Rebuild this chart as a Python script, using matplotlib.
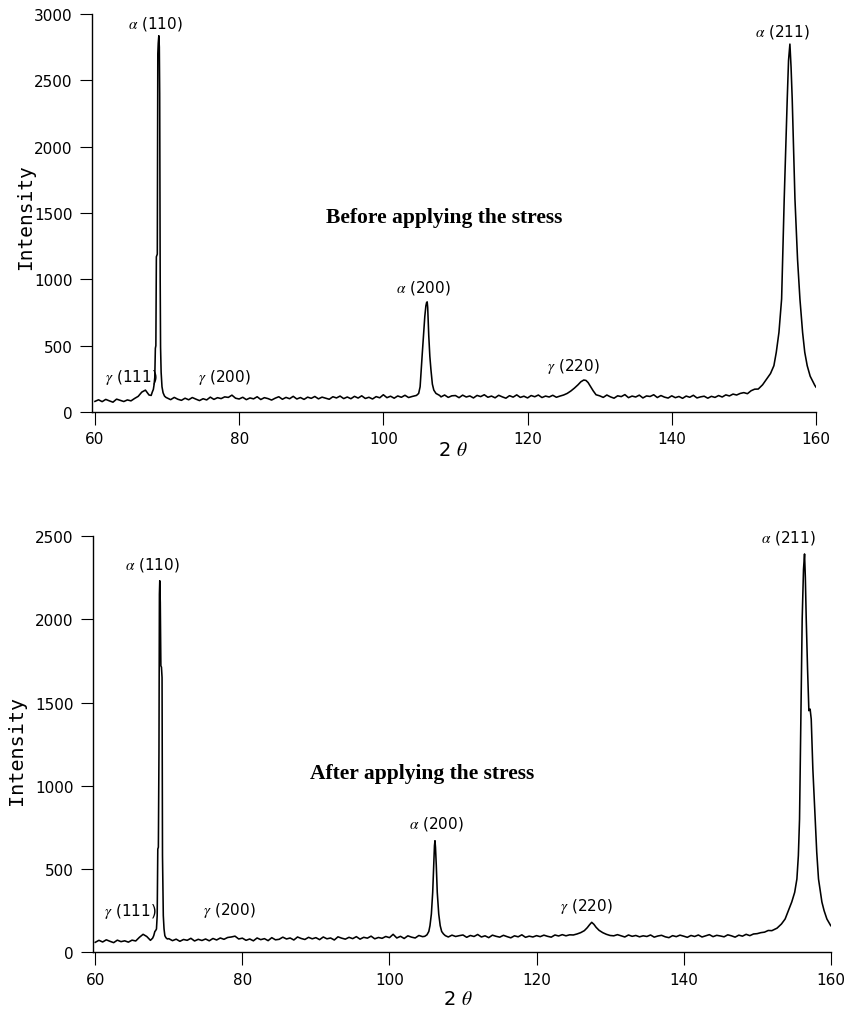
import matplotlib.pyplot as plt
import numpy as np

plt.rcParams['font.family'] = 'DejaVu Sans'
plt.rcParams['mathtext.fontset'] = 'stix'

# 2-theta grid for the background part of both scans (0.5 deg steps)
theta_grid = np.arange(60.0, 160.01, 0.5)

# background counts, 10 values per 5 deg
before_bg = [
    80, 92, 78, 95, 84, 74, 97, 88, 79, 91,
    84, 102, 118, 150, 165, 128, 150, 1000, 1000, 140,
    106, 93, 110, 96, 88, 104, 92, 109, 97, 86,
    100, 91, 112, 95, 108, 101, 114, 110, 127, 104,
    98, 111, 93, 106, 99, 115, 94, 108, 101, 90,
    104, 115, 96, 110, 100, 118, 98, 109, 95, 112,
    103, 117, 99, 112, 104, 96, 115, 106, 120, 101,
    113, 100, 118, 105, 122, 102, 111, 98, 116, 107,
    130, 108, 119, 104, 121, 111, 126, 109, 117, 124,
    200, 600, 500, 200, 140, 126, 114, 128, 110, 122,
    124, 108, 127, 113, 121, 106, 125, 116, 130, 111,
    120, 107, 126, 114, 104, 123, 112, 129, 110, 119,
    106, 124, 115, 128, 109, 120, 113, 126, 111, 118,
    140, 160, 185, 225, 238, 230, 205, 160, 128, 118,
    125, 110, 128, 114, 104, 122, 116, 131, 108, 120,
    113, 127, 106, 121, 117, 130, 109, 124, 112, 105,
    122, 108, 117, 103, 120, 111, 126, 106, 114, 119,
    104, 118, 110, 124, 113, 129, 121, 135, 128, 140,
    146, 138, 160, 172, 200, 240, 300, 380, 520, 700,
    900, 1200, 1800, 2500, 2700, 2000, 1100, 620, 330, 230,
    185,
]

after_bg = [
    60, 72, 62, 75, 66, 58, 73, 64, 69, 61,
    73, 68, 90, 108, 95, 72, 100, 600, 1000, 150,
    82, 70, 79, 66, 77, 72, 84, 68, 78, 71,
    80, 69, 83, 74, 86, 78, 89, 92, 97, 80,
    85, 72, 80, 69, 86, 76, 82, 70, 88, 75,
    78, 91, 80, 86, 74, 92, 83, 77, 90, 81,
    88, 76, 92, 81, 86, 74, 93, 85, 79, 90,
    82, 94, 79, 90, 85, 97, 81, 89, 84, 95,
    88, 108, 86, 96, 83, 99, 91, 86, 101, 94,
    120, 400, 650, 300, 120, 104, 92, 103, 95, 100,
    104, 90, 101, 95, 107, 92, 99, 88, 103, 96,
    91, 102, 94, 87, 99, 93, 105, 90, 97, 92,
    100, 94, 103, 96, 91, 104, 98, 106, 99, 105,
    108, 112, 122, 140, 160, 150, 130, 120, 112, 106,
    103, 97, 106, 99, 92, 104, 96, 101, 93, 99,
    95, 104, 91, 98, 102, 93, 88, 100, 94, 103,
    97, 90, 101, 95, 104, 92, 99, 106, 94, 102,
    98, 93, 105, 99, 91, 103, 97, 108, 100, 110,
    112, 118, 121, 131, 136, 150, 165, 185, 210, 260,
    300, 500, 1500, 2300, 1500, 900, 400, 260, 200, 170,
    158,
]

# peaks, read point by point (before applying the stress)
before_a110_x = [67.8, 67.95, 68.1, 68.2, 68.3, 68.38, 68.45, 68.52, 68.58, 68.65, 68.72, 68.78,
                 68.86, 68.93, 68.98, 69.05, 69.1, 69.18, 69.3, 69.45, 69.65, 69.85, 70.0]
before_a110_y = [125, 150, 170, 205, 260, 480, 500, 1170, 1180, 1190, 2700, 2780,
                 2836, 2750, 2400, 1000, 490, 300, 190, 145, 120, 110, 106]
before_a200_x = [104.6, 104.9, 105.1, 105.25, 105.4, 105.57, 105.75, 105.9, 106.0, 106.08, 106.15,
                 106.3, 106.45, 106.6, 106.8, 107.0, 107.3, 107.8]
before_a200_y = [125, 140, 190, 320, 440, 575, 720, 800, 825, 830, 790,
                 575, 420, 320, 210, 165, 140, 125]
before_g220_x = [124.5, 125.0, 125.5, 126.0, 126.5, 127.0, 127.4, 127.8, 128.1, 128.4, 128.7,
                 129.1, 129.5, 130.0]
before_g220_y = [120, 128, 140, 158, 180, 205, 228, 241, 238, 222, 195, 160, 130, 122]
before_a211_x = [152.0, 152.6, 153.16, 153.7, 154.17, 154.5, 154.87, 155.24, 155.6, 156.02, 156.2,
                 156.39, 156.55, 156.71, 157.09, 157.45, 157.78, 158.15, 158.45, 158.79, 159.2,
                 159.63, 159.85, 160.0]
before_a211_y = [173, 205, 249, 290, 349, 450, 600, 852, 1605, 2359, 2650,
                 2773, 2600, 2359, 1605, 1150, 852, 600, 450, 349, 270,
                 224, 200, 188]

# peaks after applying the stress
after_a110_x = [67.8, 67.95, 68.1, 68.2, 68.32, 68.42, 68.5, 68.58, 68.66, 68.72, 68.77, 68.84,
                68.92, 69.0, 69.08, 69.14, 69.25, 69.35, 69.46, 69.6, 69.8]
after_a110_y = [85, 100, 125, 130, 140, 220, 620, 631, 1200, 2150, 2231, 2100,
                1720, 1712, 1650, 580, 220, 140, 100, 88, 80]
after_a200_x = [104.8, 105.1, 105.35, 105.51, 105.7, 105.88, 106.01, 106.12, 106.19, 106.26,
                106.37, 106.5, 106.7, 106.9, 107.1, 107.35, 107.6]
after_a200_y = [96, 105, 125, 160, 230, 360, 520, 640, 670, 630, 520, 360, 230, 160, 125, 110, 100]
after_g220_x = [125.0, 125.5, 126.0, 126.5, 126.9, 127.2, 127.5, 127.8, 128.1, 128.5, 129.0,
                129.5, 130.0, 130.5]
after_g220_y = [104, 110, 118, 130, 148, 165, 180, 168, 150, 132, 118, 108, 101, 99]
after_a211_x = [152.0, 152.7, 153.3, 153.8, 154.2, 154.7, 155.1, 155.4, 155.6, 155.76, 155.94,
                156.12, 156.3, 156.44, 156.55, 156.67, 156.85, 157.03, 157.2, 157.35, 157.57,
                157.89, 158.1, 158.34, 158.8, 159.1, 159.48, 159.8, 160.0]
after_a211_y = [130, 145, 170, 200, 245, 302, 360, 440, 580, 800, 1401,
                2002, 2300, 2392, 2250, 2002, 1702, 1451, 1460, 1400, 1101,
                800, 600, 440, 302, 250, 200, 175, 160]

peak_names = [r'$\alpha$ (110)', r'$\gamma$ (111)', r'$\gamma$ (200)',
              r'$\alpha$ (200)', r'$\gamma$ (220)', r'$\alpha$ (211)']


def build_scan(bg, peaks):
    # drop background points that fall inside a measured peak, then merge
    keep = np.ones(theta_grid.size, dtype=bool)
    for px, py in peaks:
        keep &= (theta_grid < px[0]) | (theta_grid > px[-1])
    x = np.concatenate([theta_grid[keep]] + [np.asarray(px, float) for px, py in peaks])
    y = np.concatenate([np.asarray(bg, float)[keep]] + [np.asarray(py, float) for px, py in peaks])
    order = np.argsort(x, kind='stable')
    return x[order], y[order]


def style_axes(ax, xlo, ymax):
    ax.set_xlim(xlo, 160)
    ax.set_ylim(0, ymax)
    ax.spines['top'].set_visible(False)
    ax.spines['right'].set_visible(False)
    ax.spines['left'].set_linewidth(1.0)
    ax.spines['bottom'].set_linewidth(1.0)
    ax.set_xticks([60, 80, 100, 120, 140, 160])
    ax.set_yticks(np.arange(0, ymax + 1, 500))
    ax.tick_params(direction='out', length=9, width=0.8, labelsize=11, pad=5)
    ax.tick_params(axis='x', pad=5)


fig = plt.figure(figsize=(8.45, 10.12), dpi=100)

# top panel: before applying the stress
ax1 = fig.add_axes([0.1092, 0.5919, 0.8564, 0.3933])
x1, y1 = build_scan(before_bg, [(before_a110_x, before_a110_y), (before_a200_x, before_a200_y),
                                (before_g220_x, before_g220_y), (before_a211_x, before_a211_y)])
ax1.plot(x1, y1, color='black', lw=1.15)
style_axes(ax1, 59.63, 3000)
top_pos = [(68.4, 2931), (65.0, 271), (78.0, 271), (105.5, 940), (126.4, 354), (155.35, 2874)]
for name, (tx, ty) in zip(peak_names, top_pos):
    ax1.text(tx, ty, name, ha='center', va='center', fontsize=11)
ax1.text(108.4, 1470, 'Before applying the stress', ha='center', va='center',
         fontsize=15.5, fontweight='bold', family='Liberation Serif')

# bottom panel: after applying the stress
ax2 = fig.add_axes([0.1104, 0.0580, 0.8727, 0.4114])
x2, y2 = build_scan(after_bg, [(after_a110_x, after_a110_y), (after_a200_x, after_a200_y),
                               (after_g220_x, after_g220_y), (after_a211_x, after_a211_y)])
ax2.plot(x2, y2, color='black', lw=1.15)
style_axes(ax2, 59.73, 2500)
bot_pos = [(67.76, 2332), (64.76, 250), (78.3, 256), (106.42, 777), (126.83, 284), (154.3, 2492)]
for name, (tx, ty) in zip(peak_names, bot_pos):
    ax2.text(tx, ty, name, ha='center', va='center', fontsize=11)
ax2.text(104.4, 1077, 'After applying the stress', ha='center', va='center',
         fontsize=15.5, fontweight='bold', family='Liberation Serif')

# axis titles
fig.text(26 / 845, 1 - 217 / 1012, 'Intensity', rotation=90, ha='center', va='center',
         fontsize=14, family='DejaVu Sans Mono')
fig.text(16.5 / 845, 1 - 750 / 1012, 'Intensity', rotation=90, ha='center', va='center',
         fontsize=14.5, family='DejaVu Sans Mono')
fig.text(453 / 845, 1 - 451 / 1012, r'2 $\theta$', ha='center', va='center', fontsize=14)
fig.text(458 / 845, 1 - 1000 / 1012, r'2 $\theta$', ha='center', va='center', fontsize=14)

fig.savefig('out.png', dpi=100)
